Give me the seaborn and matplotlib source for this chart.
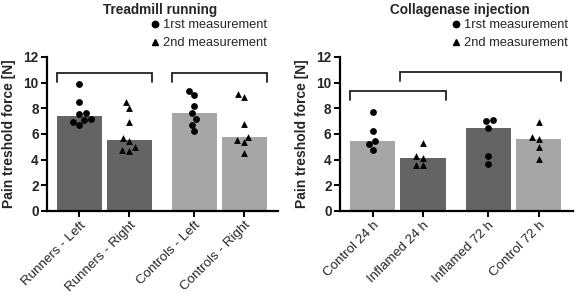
import matplotlib
matplotlib.use("Agg")
import pandas as pd
import matplotlib.pyplot as plt
from matplotlib.lines import Line2D
import seaborn as sns

# ---- data ----
tread_labels = ["Runners - Left", "Runners - Right", "Controls - Left", "Controls - Right"]
runners_left = [9.9, 8.5, 7.6, 7.55, 7.2, 7.1, 6.95, 6.7]
runners_right = [8.45, 8.0, 6.95, 5.65, 5.45, 4.95, 4.75, 4.67]
controls_left = [9.35, 9.0, 8.15, 7.6, 7.15, 6.7, 6.2]
controls_right = [9.15, 8.85, 6.75, 5.8, 5.5, 5.35, 4.5]
tread_shade = ["dark", "dark", "light", "light"]
tread_marker = ["o", "^", "o", "^"]
tread_brackets = [(0, 1, 10.75), (2, 3, 10.75)]

coll_labels = ["Control 24 h", "Inflamed 24 h", "Inflamed 72 h", "Control 72 h"]
control_24 = [7.7, 6.25, 5.45, 5.2, 4.75]
inflamed_24 = [5.3, 4.25, 4.15, 3.6, 3.6]
inflamed_72 = [7.1, 7.0, 6.5, 4.25, 3.65]
control_72 = [6.95, 5.75, 5.6, 5.0, 4.05]
coll_shade = ["light", "dark", "dark", "light"]
coll_marker = ["o", "^", "o", "^"]
coll_brackets = [(0, 1, 9.35), (1, 3, 10.85)]

# layout
positions = [0, 1, 2.3, 3.3]
bar_width = 0.9
shades = {"dark": "#646464", "light": "#a6a6a6"}

sns.set_theme(style="white")
plt.rcParams["font.family"] = ["Liberation Sans", "DejaVu Sans"]

fig = plt.figure(figsize=(5.76, 2.98), dpi=100)
ax1 = fig.add_axes([0.0816, 0.292, 0.401, 0.517])
ax2 = fig.add_axes([0.590, 0.292, 0.4045, 0.517])


def make_frame(labels, series, shade, marker):
    rows = []
    for i, (lab, vals) in enumerate(zip(labels, series)):
        for v in vals:
            rows.append({"group": lab, "pos": positions[i], "value": v,
                         "shade": shade[i], "marker": marker[i]})
    return pd.DataFrame(rows)


def draw_panel(ax, df, labels, brackets, title, title_x, legend_x, ylabel_x):
    sns.barplot(data=df, x="pos", y="value", hue="shade", palette=shades,
                estimator="median", errorbar=None, native_scale=True,
                orient="x", width=bar_width, linewidth=0, dodge=False,
                legend=False, ax=ax)
    for m in ["o", "^"]:
        sub = df[df["marker"] == m]
        sns.swarmplot(data=sub, x="pos", y="value", native_scale=True,
                      orient="x", marker=m, color="black", size=4.9,
                      linewidth=0, zorder=3, ax=ax)

    # significance brackets
    half = bar_width / 2
    for a, b, h in brackets:
        x0 = positions[a] - half
        x1 = positions[b] + half
        ax.plot([x0, x0, x1, x1], [h - 0.7, h, h, h - 0.7],
                color="#222222", lw=1.3, solid_joinstyle="miter", clip_on=False)

    ax.set_ylim(0, 12)
    ax.set_yticks(range(0, 13, 2))
    ax.set_xlim(-0.65, 3.98)
    ax.set_xticks(positions)
    ax.set_xticklabels(labels, rotation=45, ha="right", rotation_mode="anchor",
                       fontsize=9.6)
    for t in ax.get_yticklabels():
        t.set_fontweight("bold")
        t.set_fontsize(9.8)
    ax.set_xlabel("")
    ax.set_ylabel("")
    sns.despine(ax=ax)
    for s in ["left", "bottom"]:
        ax.spines[s].set_linewidth(1.6)
        ax.spines[s].set_color("black")
    ax.tick_params(axis="both", direction="out", length=4, width=1.4,
                   color="black", pad=2, bottom=True, left=True)

    fig.text(title_x, 0.965, title, ha="center", va="center",
             fontsize=9.8, fontweight="bold")
    fig.text(ylabel_x, 0.292 + 0.517 / 2, "Pain treshold force [N]",
             rotation=90, ha="center", va="center", fontsize=10,
             fontweight="bold")

    handles = [Line2D([], [], marker="o", color="black", ls="none", ms=4.6),
               Line2D([], [], marker="^", color="black", ls="none", ms=4.6)]
    ax.legend(handles, ["1rst measurement", "2nd measurement"],
              loc="upper left", bbox_to_anchor=(legend_x, 0.935),
              bbox_transform=fig.transFigure, frameon=False, fontsize=9.3,
              handlelength=0.7, handletextpad=0.3, borderpad=0,
              borderaxespad=0, labelspacing=0.45)


tread_df = make_frame(tread_labels,
                      [runners_left, runners_right, controls_left, controls_right],
                      tread_shade, tread_marker)
coll_df = make_frame(coll_labels,
                     [control_24, inflamed_24, inflamed_72, control_72],
                     coll_shade, coll_marker)

draw_panel(ax1, tread_df, tread_labels, tread_brackets,
           "Treadmill running", 160 / 576, 150 / 576, 9 / 576)
draw_panel(ax2, coll_df, coll_labels, coll_brackets,
           "Collagenase injection", 460 / 576, 451 / 576, 302 / 576)

fig.savefig("out.png", dpi=100)
